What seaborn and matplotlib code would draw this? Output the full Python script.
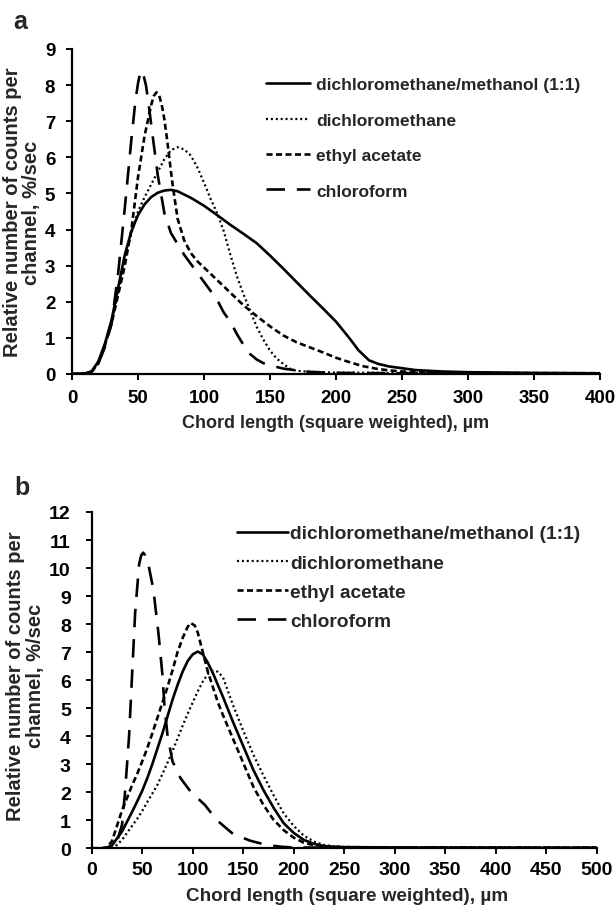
import matplotlib
matplotlib.use("Agg")
import matplotlib.pyplot as plt
import numpy as np
import pandas as pd
import seaborn as sns

# ---------------------------------------------------------------------------
# Chord length distributions (square weighted) for four crystallisation solvents
# ---------------------------------------------------------------------------
SOLVENTS = ["dichloromethane/methanol (1:1)", "dichloromethane",
            "ethyl acetate", "chloroform"]

# Panel a
A_MIX_X = [0, 10, 15, 20, 25, 30, 35, 40, 45, 50, 55, 60, 65, 70, 75, 80,
           90, 100, 110, 120, 130, 140, 150, 160, 170, 180, 190, 200,
           210, 217, 225, 232, 240, 250, 260, 280, 300, 350, 400]
A_MIX_Y = [0, 0.01, 0.08, 0.35, 0.85, 1.5, 2.4, 3.3, 3.95, 4.4, 4.7, 4.9, 5.02, 5.08, 5.1, 5.06,
           4.88, 4.66, 4.4, 4.13, 3.88, 3.62, 3.28, 2.92, 2.55, 2.18, 1.82, 1.45,
           1.0, 0.66, 0.38, 0.28, 0.21, 0.16, 0.11, 0.07, 0.05, 0.03, 0.02]

A_DCM_X = [0, 10, 15, 20, 25, 30, 35, 40, 45, 50, 55, 60, 65, 70, 75, 80,
           85, 90, 95, 100, 105, 110, 115, 120, 125, 130, 135, 140, 145, 150, 155, 160,
           165, 170, 180, 200, 250, 300, 400]
A_DCM_Y = [0, 0.01, 0.07, 0.3, 0.8, 1.4, 2.3, 3.2, 3.9, 4.5, 4.9, 5.25, 5.6, 5.95, 6.2, 6.28,
           6.22, 6.05, 5.72, 5.3, 4.85, 4.45, 3.95, 3.3, 2.7, 2.2, 1.75, 1.3, 0.95, 0.65, 0.43, 0.28,
           0.15, 0.09, 0.06, 0.04, 0.03, 0.02, 0.01]

A_EA_X = [0, 10, 15, 20, 25, 30, 35, 40, 45, 50, 55, 60, 62, 64, 66, 68, 70, 72, 76,
          80, 85, 90, 95, 100, 110, 120, 130, 140, 150, 160, 170, 180, 190, 200, 210,
          220, 230, 240, 250, 260, 300, 400]
A_EA_Y = [0, 0.01, 0.06, 0.3, 0.8, 1.4, 2.2, 3.0, 4.0, 5.45, 6.6, 7.45, 7.7, 7.8, 7.72, 7.45, 7.05, 6.5, 5.3,
          4.3, 3.7, 3.35, 3.12, 2.95, 2.6, 2.25, 1.9, 1.6, 1.32, 1.07, 0.88, 0.74, 0.6, 0.45, 0.33,
          0.22, 0.15, 0.1, 0.07, 0.05, 0.03, 0.02]

A_CF_X = [0, 10, 15, 20, 25, 30, 35, 40, 45, 48, 50, 52, 54, 56, 58, 60,
          65, 70, 75, 80, 85, 90, 95, 100, 105, 110, 115, 120, 125, 130, 135, 140,
          145, 150, 160, 170, 180, 200, 250, 300, 400]
A_CF_Y = [0, 0.01, 0.07, 0.3, 0.75, 1.4, 2.8, 4.6, 6.5, 7.55, 8.05, 8.4, 8.3, 8.0, 7.5, 6.9,
          5.5, 4.45, 3.9, 3.6, 3.3, 3.05, 2.8, 2.55, 2.3, 2.05, 1.7, 1.45, 1.1, 0.8, 0.55, 0.4,
          0.3, 0.24, 0.15, 0.1, 0.06, 0.03, 0.02, 0.015, 0.01]

# Panel b
B_MIX_X = [0, 10, 15, 20, 25, 30, 35, 40, 45, 50, 55, 60, 65, 70, 75, 80,
           85, 90, 95, 100, 105, 110, 115, 120, 125, 130, 140, 150, 160, 170, 180, 190,
           200, 210, 220, 230, 240, 250, 300, 400, 500]
B_MIX_Y = [0, 0, 0.02, 0.1, 0.35, 0.6, 0.95, 1.3, 1.67, 2.05, 2.5, 3.0, 3.55, 4.1, 4.7, 5.3,
           5.83, 6.3, 6.68, 6.92, 7.02, 6.92, 6.62, 6.25, 5.82, 5.4, 4.5, 3.65, 2.8, 2.08, 1.45, 0.9,
           0.55, 0.3, 0.16, 0.08, 0.05, 0.04, 0.03, 0.02, 0.02]

B_DCM_X = [0, 10, 20, 25, 30, 35, 40, 45, 50, 55, 60, 65, 70, 75, 80, 85,
           90, 95, 100, 105, 110, 115, 120, 125, 130, 140, 150, 160, 170, 180, 190, 200,
           210, 220, 230, 240, 250, 300, 400, 500]
B_DCM_Y = [0, 0, 0.02, 0.12, 0.3, 0.55, 0.8, 1.05, 1.33, 1.65, 1.95, 2.26, 2.65, 3.05, 3.47, 3.92,
           4.37, 4.8, 5.2, 5.6, 5.95, 6.22, 6.33, 6.3, 6.1, 5.1, 4.2, 3.35, 2.6, 1.9, 1.25, 0.8,
           0.45, 0.24, 0.12, 0.07, 0.05, 0.04, 0.04, 0.03]

B_EA_X = [0, 10, 15, 20, 25, 30, 35, 40, 45, 50, 55, 60, 65, 70, 75, 80,
          85, 90, 95, 98, 102, 105, 110, 115, 120, 125, 130, 140, 150, 160, 170, 180,
          190, 200, 210, 220, 230, 250, 300, 500]
B_EA_Y = [0, 0, 0.03, 0.25, 0.8, 1.35, 1.8, 2.25, 2.65, 3.1, 3.57, 4.1, 4.65, 5.2, 5.75, 6.35,
          7.0, 7.5, 7.9, 8.04, 7.95, 7.7, 7.0, 6.3, 5.75, 5.2, 4.75, 3.9, 3.05, 2.2, 1.55, 1.02,
          0.65, 0.38, 0.2, 0.11, 0.07, 0.04, 0.03, 0.02]

B_CF_X = [0, 10, 15, 20, 25, 30, 33, 37, 40, 43, 47, 49, 51, 53, 56, 61,
          66, 70, 72, 75, 80, 88, 98, 112, 124, 140, 157, 173, 189, 200, 250, 300,
          400, 500]
B_CF_Y = [0, 0, 0.02, 0.08, 0.24, 0.83, 2.0, 4.0, 6.2, 8.4, 10.15, 10.45, 10.55, 10.45, 10.15, 9.25,
          7.7, 6.2, 5.1, 4.05, 3.1, 2.5, 2.02, 1.55, 1.0, 0.51, 0.27, 0.12, 0.05, 0.03, 0.02, 0.02,
          0.01, 0.01]

X_TITLE = "Chord length (square weighted), \u00b5m"
Y_TITLE = "Relative number of counts per\nchannel, %/sec"

# line appearance per solvent: (linewidth, dash pattern in linewidth units)
LINE_STYLE = {
    SOLVENTS[0]: (1.9, None),
    SOLVENTS[1]: (1.6, (0.9, 1.3)),
    SOLVENTS[2]: (1.9, (2.3, 1.3)),
    SOLVENTS[3]: (1.9, (7.0, 4.5)),
}

sns.set_theme(style="ticks")
plt.rcParams["font.family"] = ["Liberation Sans", "DejaVu Sans"]
plt.rcParams["font.weight"] = "bold"
plt.rcParams["axes.labelweight"] = "bold"


def long_form(series):
    frames = [pd.DataFrame({"chord": xs, "counts": ys, "solvent": name})
              for name, xs, ys in series]
    return pd.concat(frames, ignore_index=True)


def draw_panel(ax, df):
    handles = []
    for name in SOLVENTS:
        sub = df[df["solvent"] == name]
        sns.lineplot(data=sub, x="chord", y="counts", ax=ax, color="black",
                     estimator=None, sort=False, legend=False,
                     linewidth=LINE_STYLE[name][0])
        line = ax.lines[-1]
        line.set_label(name)
        dashes = LINE_STYLE[name][1]
        if dashes is not None:
            line.set_dashes(dashes)
            line.set_dash_capstyle("butt")
        handles.append(line)
    return handles


def style_axes(ax, xmax, xstep, ymax, tick_size, xpad, ypad, ticklen):
    ax.set_xlim(0, xmax)
    ax.set_ylim(0, ymax)
    ax.set_xticks(np.arange(0, xmax + 1, xstep))
    ax.set_yticks(np.arange(0, ymax + 1, 1))
    sns.despine(ax=ax)
    for side in ("left", "bottom"):
        ax.spines[side].set_linewidth(1.6)
        ax.spines[side].set_color("black")
    ax.tick_params(axis="both", direction="out", length=ticklen, width=1.4,
                   colors="black", labelsize=tick_size)
    ax.tick_params(axis="x", pad=xpad)
    ax.tick_params(axis="y", pad=ypad)
    for lab in ax.get_xticklabels() + ax.get_yticklabels():
        lab.set_fontweight("bold")


W, H = 615, 920
fig = plt.figure(figsize=(W / 100, H / 100), dpi=100)
fig.patch.set_facecolor("white")

# ---- panel a ----
ax_a = fig.add_axes([72 / W, 1 - 375 / H, 528 / W, 325 / H])
df_a = long_form([(SOLVENTS[0], A_MIX_X, A_MIX_Y), (SOLVENTS[1], A_DCM_X, A_DCM_Y),
                  (SOLVENTS[2], A_EA_X, A_EA_Y), (SOLVENTS[3], A_CF_X, A_CF_Y)])
h_a = draw_panel(ax_a, df_a)
style_axes(ax_a, 400, 50, 9, 13.5, 6.5, 8.0, 4)
ax_a.set_xlabel(X_TITLE, fontsize=13, fontweight="bold")
ax_a.xaxis.set_label_coords(0.5, -0.123)
ax_a.set_ylabel(Y_TITLE, fontsize=14.5, fontweight="bold", linespacing=1.0)
ax_a.yaxis.set_label_coords(-0.059, 0.5)
ax_a.legend(h_a, SOLVENTS, loc="upper left", bbox_to_anchor=(266 / W, 1 - 78 / H),
            bbox_transform=fig.transFigure, frameon=False,
            prop={"size": 12.5, "weight": "bold"}, handlelength=2.55,
            handletextpad=0.35, labelspacing=1.17, borderpad=0, borderaxespad=0)
fig.text(20 / W, 1 - 22 / H, "a", fontsize=18, fontweight="bold", ha="center", va="center")

# ---- panel b ----
ax_b = fig.add_axes([91.7 / W, 1 - 849.3 / H, 505 / W, 336.3 / H])
df_b = long_form([(SOLVENTS[0], B_MIX_X, B_MIX_Y), (SOLVENTS[1], B_DCM_X, B_DCM_Y),
                  (SOLVENTS[2], B_EA_X, B_EA_Y), (SOLVENTS[3], B_CF_X, B_CF_Y)])
h_b = draw_panel(ax_b, df_b)
style_axes(ax_b, 500, 50, 12, 14, 4.3, 10.5, 4.5)
ax_b.set_xlabel(X_TITLE, fontsize=13.6, fontweight="bold")
ax_b.xaxis.set_label_coords(0.505, -0.115)
ax_b.set_ylabel(Y_TITLE, fontsize=14.5, fontweight="bold", linespacing=1.1)
ax_b.yaxis.set_label_coords(-0.092, 0.515)
ax_b.legend(h_b, SOLVENTS, loc="upper left", bbox_to_anchor=(237 / W, 1 - 526 / H),
            bbox_transform=fig.transFigure, frameon=False,
            prop={"size": 13.8, "weight": "bold"}, handlelength=2.65,
            handletextpad=0.12, labelspacing=0.61, borderpad=0, borderaxespad=0)
fig.text(21.6 / W, 1 - 488 / H, "b", fontsize=18, fontweight="bold", ha="center", va="center")

fig.savefig("out.png", dpi=100, facecolor="white")
